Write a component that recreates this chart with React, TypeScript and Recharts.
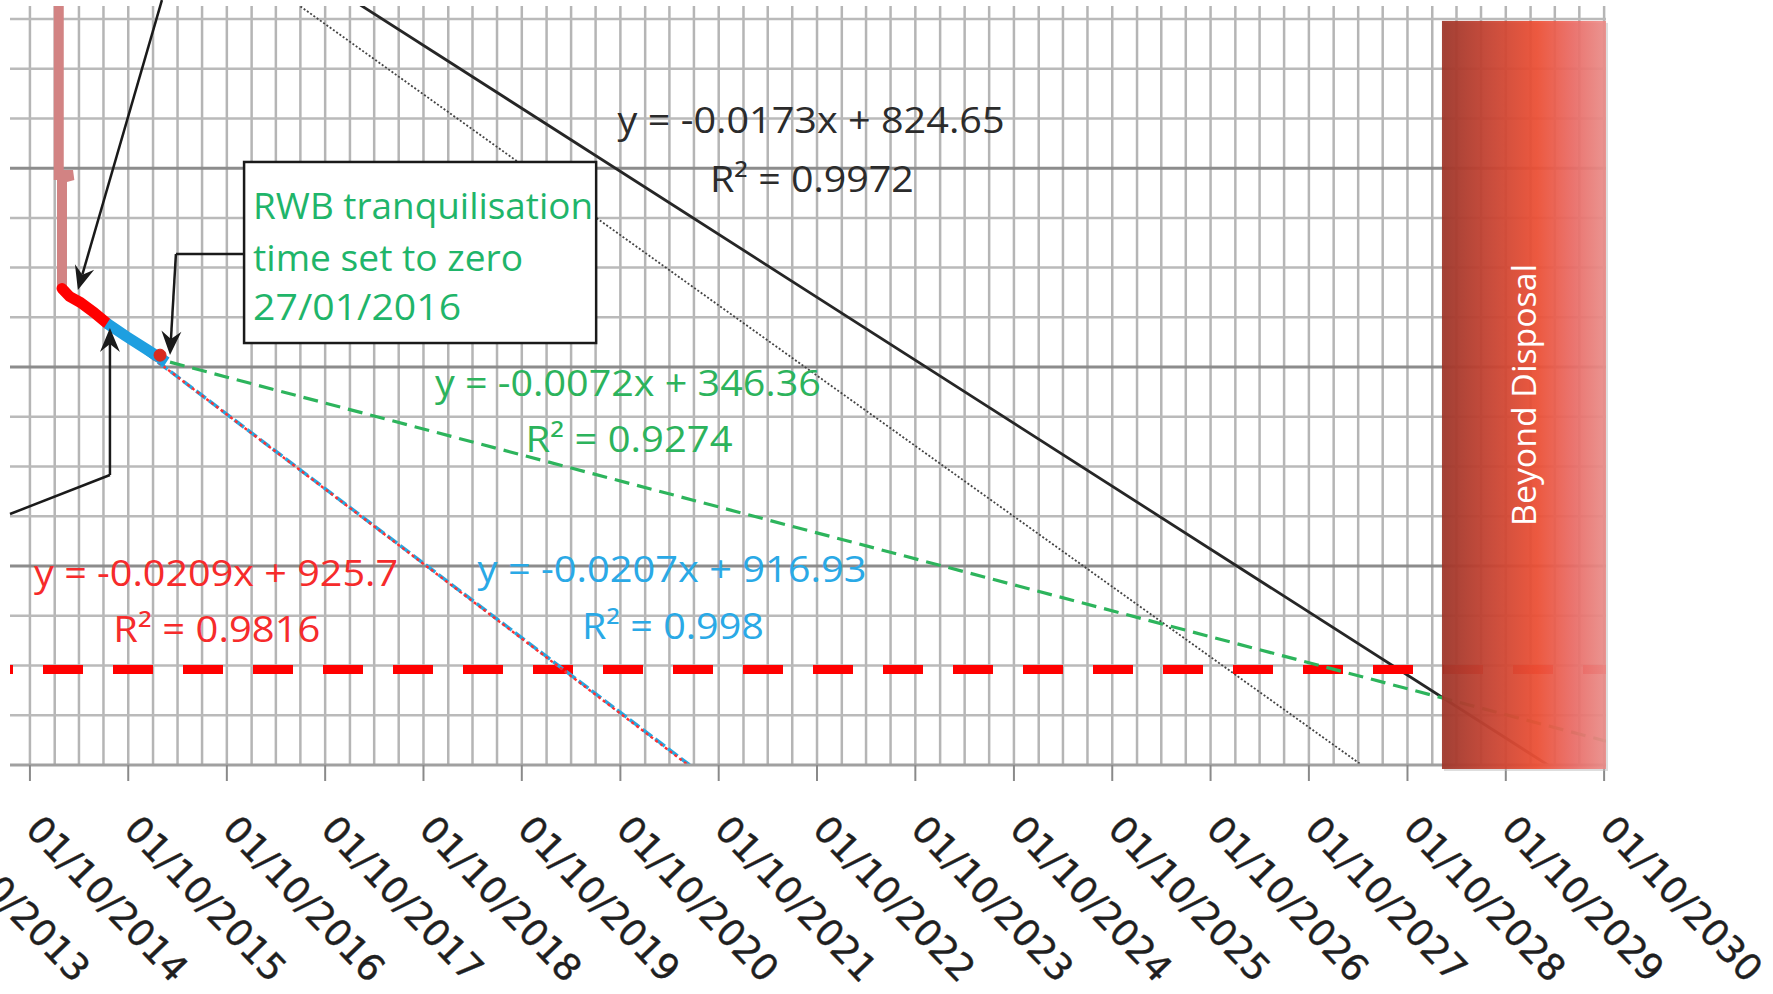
import React from 'react'
import { LineChart, Line, XAxis, YAxis, ReferenceLine, ReferenceArea, ReferenceDot } from 'recharts'

const tickLabels = [
  '01/10/2013', '01/10/2014', '01/10/2015', '01/10/2016', '01/10/2017', '01/10/2018',
  '01/10/2019', '01/10/2020', '01/10/2021', '01/10/2022', '01/10/2023', '01/10/2024',
  '01/10/2025', '01/10/2026', '01/10/2027', '01/10/2028', '01/10/2029', '01/10/2030',
]

const pinkDays = [42020, 42020, 42073, 42032, 42032]
const pinkValues = [90, 59.3, 59.3, 59.0, 47.9]
const redDays = [42032, 42060, 42100, 42150, 42199]
const redValues = [47.9, 47.1, 46.5, 45.5, 44.4]
const blueDays = [42199, 42270, 42345, 42420]
const blueValues = [44.4, 43.1, 41.8, 40.5]
const markerDays = [42396]
const markerValues = [41.2]

const redTrendDays = [42036, 44356]
const redTrendValues = [47.75, 0]
const blueTrendDays = [42199, 44362]
const blueTrendValues = [44.4, 0]
const greenTrendDays = [42433, 47764]
const greenTrendValues = [40.5, 2.4]
const blackTrendDays = [42932, 47548]
const blackTrendValues = [80, 0]
const greyTrendDays = [42724, 46857]
const greyTrendValues = [80, 0]
const limitDays = [41839, 47764]
const limitValues = [9.6, 9.6]

const X_DOMAIN = [41839, 47764]
const Y_DOMAIN = [0, 76.3]

const toSerial = (label: string) => {
  const [dd, mm, yy] = label.split('/').map(Number)
  return Math.round((Date.UTC(yy, mm - 1, dd) - Date.UTC(1899, 11, 30)) / 86400000)
}
const tickDays = tickLabels.map(toSerial)

const pts = (days: number[], values: number[]) => days.map((day, i) => ({ day, value: values[i] }))

// grid: quarterly verticals, horizontals every 5 with darker ones every 20
const firstGrid = toSerial('01/10/2014')
const lastGrid = toSerial('01/10/2030')
const quarterDays: number[] = []
for (let y = 2014; y <= 2030; y++) {
  for (const m of [1, 4, 7, 10]) {
    const d = toSerial(`01/${m}/${y}`)
    if (d >= firstGrid && d <= lastGrid) quarterDays.push(d)
  }
}
const gridValues = Array.from({ length: 15 }, (_, i) => (i + 1) * 5)

const equations = [
  { lines: ['y = -0.0173x + 824.65', 'R² = 0.9972'], at: [[44813, 63.53], [44816, 57.6]], widths: [387, 204], color: '#2b2b2b' },
  { lines: ['y = -0.0072x + 346.36', 'R² = 0.9274'], at: [[44133, 37.09], [44137, 31.46]], widths: [386, 207], color: '#2cb35c' },
  { lines: ['y = -0.0209x + 925.7', 'R² = 0.9816'], at: [[42604, 17.99], [42607, 12.36]], widths: [364, 207], color: '#f62b2b' },
  { lines: ['y = -0.0207x + 916.93', 'R² = 0.998'], at: [[44297, 18.4], [44300, 12.67]], widths: [389, 182], color: '#2aa9e6' },
]

// arrows as polylines in data coordinates, the last segment carries the head
const arrows: number[][][] = [
  [[42403, 76.9], [42091, 47.75]],
  [[41839, 25.23], [42210, 29.15], [42210, 43.93]],
  [[42708, 51.37], [42455, 51.37], [42433, 41.21]],
]

const labelOf = (day: number) => tickLabels[tickDays.indexOf(day)] ?? ''

const DateTick = (props: any) => {
  const { x, y, payload } = props
  const tx = x - 6
  const ty = y + 50
  return (
    <text
      x={tx}
      y={ty}
      transform={`rotate(46 ${tx} ${ty})`}
      fontFamily="DejaVu Sans"
      fontSize={37}
      fill="#1f1f1f"
      stroke="#1f1f1f"
      strokeWidth={0.4}
    >
      {labelOf(payload.value)}
    </text>
  )
}

const arrowShape = (head: boolean) => (p: any) => {
  const { x1, y1, x2, y2 } = p
  const len = Math.hypot(x2 - x1, y2 - y1) || 1
  const ux = (x2 - x1) / len
  const uy = (y2 - y1) / len
  const bx = x2 - ux * 24
  const by = y2 - uy * 24
  const nx = x2 - ux * 16
  const ny = y2 - uy * 16
  const wing = `${bx - uy * 10},${by + ux * 10}`
  const wing2 = `${bx + uy * 10},${by - ux * 10}`
  return (
    <g>
      <line x1={x1} y1={y1} x2={head ? nx : x2} y2={head ? ny : y2} stroke="#1a1a1a" strokeWidth={2.5} />
      {head && <polygon points={`${x2},${y2} ${wing} ${nx},${ny} ${wing2}`} fill="#1a1a1a" />}
    </g>
  )
}

const CalloutBox = (p: any) => {
  const { x, y, width, height } = p
  const font = { fontFamily: 'Open Sans', fontSize: 36, fill: '#1fb56a' }
  return (
    <g>
      <rect x={x} y={y} width={width} height={height} fill="#ffffff" stroke="#1a1a1a" strokeWidth={2.5} />
      <text x={x + 9} y={y + 57} {...font} textLength={340} lengthAdjust="spacingAndGlyphs">RWB tranquilisation</text>
      <text x={x + 9} y={y + 109} {...font} textLength={270} lengthAdjust="spacingAndGlyphs">time set to zero</text>
      <text x={x + 9} y={y + 158} {...font} textLength={208} lengthAdjust="spacingAndGlyphs">27/01/2016</text>
    </g>
  )
}

const BeyondBox = (p: any) => {
  const { x, y, width, height } = p
  const cx = x + width / 2 + 12
  const cy = y + height / 2
  return (
    <g>
      <defs>
        <linearGradient id="beyondFill" x1="0" y1="0" x2="1" y2="0">
          <stop offset="0%" stopColor="#9c3226" stopOpacity={0.92} />
          <stop offset="30%" stopColor="#c73d2b" stopOpacity={0.9} />
          <stop offset="58%" stopColor="#ee4a2e" stopOpacity={0.9} />
          <stop offset="80%" stopColor="#ec6660" stopOpacity={0.88} />
          <stop offset="100%" stopColor="#ec8b87" stopOpacity={0.88} />
        </linearGradient>
      </defs>
      <rect x={x + 2} y={y + 2} width={width} height={height} fill="#bdbdbd" opacity={0.5} />
      <rect x={x} y={y} width={width} height={height} fill="url(#beyondFill)" />
      <text
        x={cx}
        y={cy}
        transform={`rotate(-90 ${cx} ${cy})`}
        textAnchor="middle"
        fontFamily="Open Sans"
        fontSize={33}
        fill="#ffffff"
        textLength={262}
        lengthAdjust="spacingAndGlyphs"
      >
        Beyond Disposal
      </text>
    </g>
  )
}

const eqShape = (text: string, color: string, width: number) => (p: any) => (
  <text
    x={p.cx}
    y={p.cy}
    textAnchor="middle"
    fontFamily="Open Sans"
    fontSize={36}
    fill={color}
    textLength={width}
    lengthAdjust="spacingAndGlyphs"
  >
    {text}
  </text>
)

export default function App() {
  return (
    <div style={{ position: 'absolute', left: 0, top: 0, background: '#ffffff' }}>
      <LineChart width={1773} height={994} margin={{ top: 6, right: 167, bottom: 0, left: 10 }}>
        <XAxis
          type="number"
          dataKey="day"
          domain={X_DOMAIN}
          allowDataOverflow
          ticks={tickDays}
          interval={0}
          height={229}
          tickSize={16}
          tickMargin={0}
          axisLine={{ stroke: '#a0a0a0', strokeWidth: 3 }}
          tickLine={{ stroke: '#8a8a8a', strokeWidth: 2 }}
          tick={<DateTick />}
        />
        <YAxis hide type="number" domain={Y_DOMAIN} allowDataOverflow />

        {quarterDays.map((d) => (
          <ReferenceLine key={`v${d}`} x={d} stroke="#b5b5b5" strokeWidth={2.5} zIndex={-60} />
        ))}
        {gridValues.map((v) => (
          <ReferenceLine
            key={`h${v}`}
            y={v}
            stroke={v % 20 === 0 ? '#8c8c8c' : '#bababa'}
            strokeWidth={v % 20 === 0 ? 3 : 2.5}
            zIndex={-50}
          />
        ))}

        <Line data={pts(greyTrendDays, greyTrendValues)} dataKey="value" type="linear" stroke="#444444" strokeWidth={1.8} strokeDasharray="2 2" dot={false} isAnimationActive={false} />
        <Line data={pts(blackTrendDays, blackTrendValues)} dataKey="value" type="linear" stroke="#262626" strokeWidth={2.8} dot={false} isAnimationActive={false} />
        <Line data={pts(limitDays, limitValues)} dataKey="value" type="linear" stroke="#ff0000" strokeWidth={9} strokeDasharray="40 30" strokeDashoffset={37} dot={false} isAnimationActive={false} />
        <Line data={pts(greenTrendDays, greenTrendValues)} dataKey="value" type="linear" stroke="#2db45c" strokeWidth={3.2} strokeDasharray="15 8" dot={false} isAnimationActive={false} />
        <Line data={pts(blueTrendDays, blueTrendValues)} dataKey="value" type="linear" stroke="#29a8e0" strokeWidth={3.5} strokeDasharray="12 4" dot={false} isAnimationActive={false} />
        <Line data={pts(redTrendDays, redTrendValues)} dataKey="value" type="linear" stroke="#ff3030" strokeWidth={2.4} strokeDasharray="3 3" dot={false} isAnimationActive={false} />
        <Line data={pts(pinkDays, pinkValues)} dataKey="value" type="linear" stroke="#d28383" strokeWidth={10} dot={false} isAnimationActive={false} />
        <Line data={pts(redDays, redValues)} dataKey="value" type="linear" stroke="#ff0000" strokeWidth={11} strokeLinecap="round" dot={false} isAnimationActive={false} />
        <Line data={pts(blueDays, blueValues)} dataKey="value" type="linear" stroke="#1e9fe0" strokeWidth={11} dot={false} isAnimationActive={false} />
        <Line
          data={pts(markerDays, markerValues)}
          dataKey="value"
          stroke="#ff0000"
          dot={{ r: 6, fill: '#d82a1e', stroke: '#d82a1e' }}
          isAnimationActive={false}
        />

        <ReferenceArea x1={47155} x2={47764} y1={-0.4} y2={74.8} ifOverflow="visible" shape={BeyondBox} zIndex={1500} />

        <ReferenceArea x1={42708} x2={44015} y1={42.42} y2={60.62} ifOverflow="visible" shape={CalloutBox} zIndex={1600} />
        {arrows.map((path, a) =>
          path.slice(1).map((pt, i) => (
            <ReferenceLine
              key={`a${a}-${i}`}
              segment={[{ x: path[i][0], y: path[i][1] }, { x: pt[0], y: pt[1] }]}
              ifOverflow="hidden"
              shape={arrowShape(i === path.length - 2)}
              zIndex={1600}
            />
          ))
        )}

        {equations.map((eq, k) =>
          eq.lines.map((line, i) => (
            <ReferenceDot
              key={`eq${k}-${i}`}
              x={eq.at[i][0]}
              y={eq.at[i][1]}
              r={0}
              shape={eqShape(line, eq.color, eq.widths[i])}
              zIndex={1700}
            />
          ))
        )}
      </LineChart>
    </div>
  )
}
